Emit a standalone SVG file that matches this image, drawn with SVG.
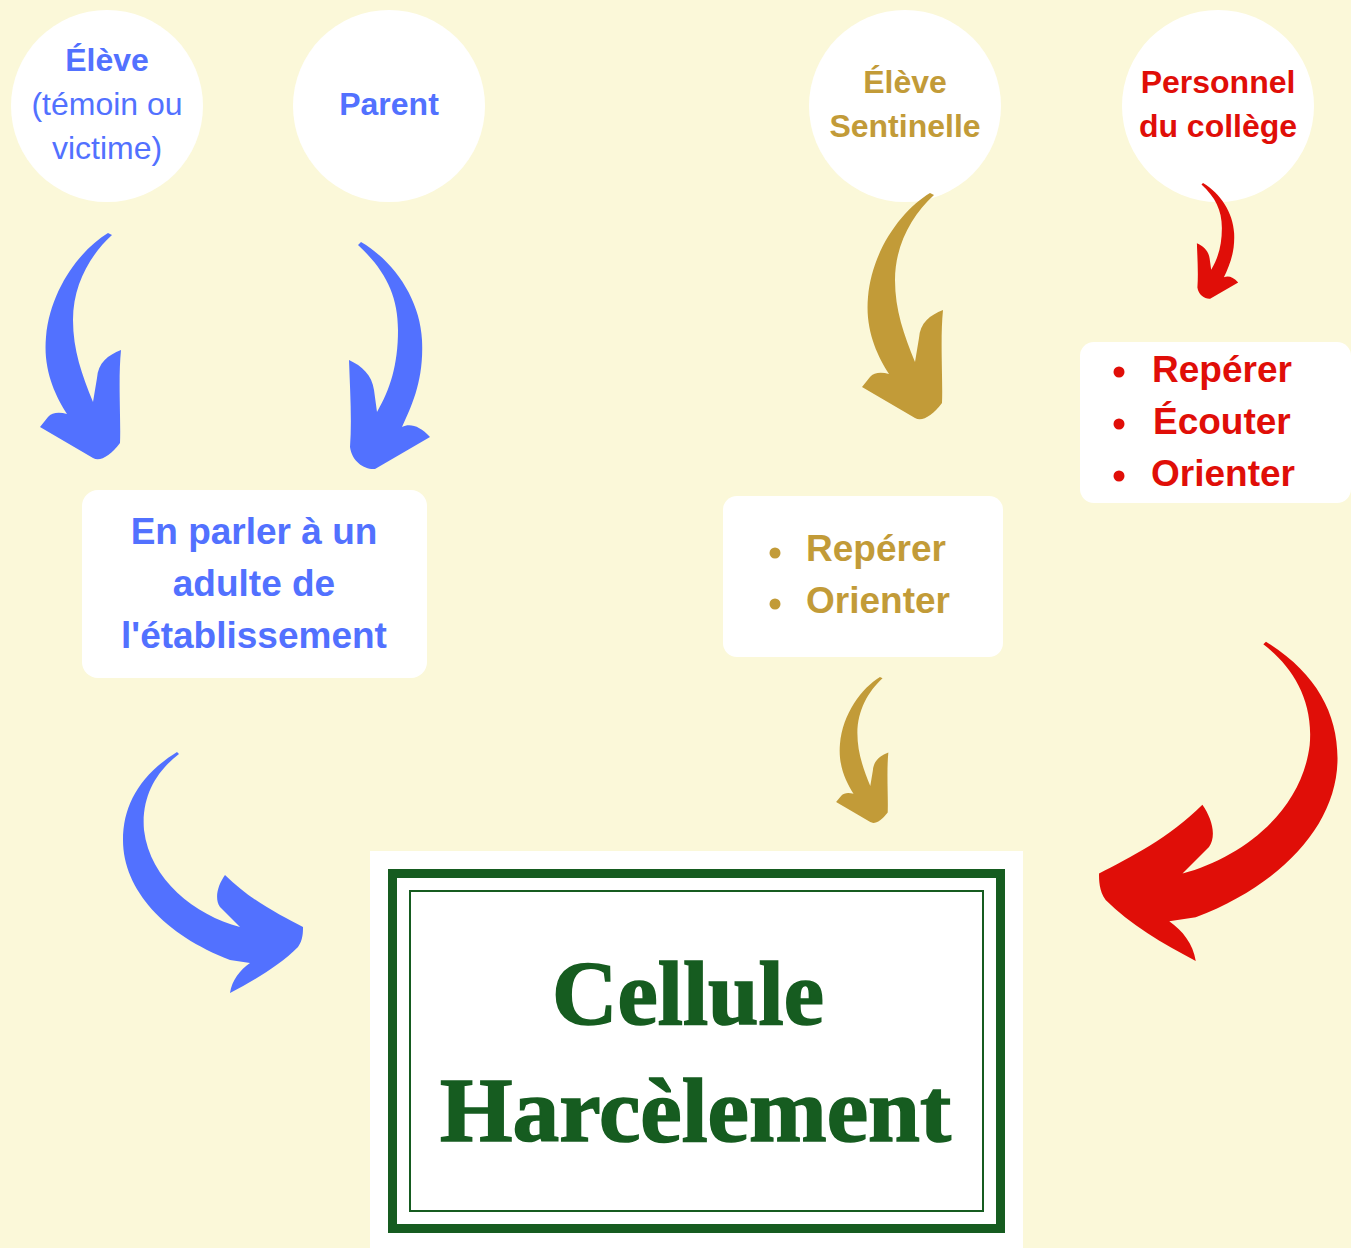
<svg xmlns="http://www.w3.org/2000/svg" xmlns:xlink="http://www.w3.org/1999/xlink" width="1351" height="1248" viewBox="0 0 1351 1248">
<style>
.sans{font-family:"Liberation Sans",Arial,sans-serif}
.b{font-weight:700}
.blue{fill:#5271FF}
.gold{fill:#C29B38}
.red{fill:#E00E08}
.c31{font-size:32px}
.c36{font-size:37px}
.card{fill:#FFFFFF}
.title{font-family:"Liberation Serif","Times New Roman",serif;font-weight:700;font-size:92px;fill:#165C20;stroke:#165C20;stroke-width:1.6px}
</style>
<defs>
<path id="arrowR" d="M108,233 C80,250 50,290 46,337 C43,370 55,395 67,414 C60,412 52,412 48,417 L40,427 L93,458 C100,462 110,456 120,443 C121,420 118,380 121,350 C108,355 98,363 97,378 L93,402 C82,375 73,350 73,320 C73,285 90,255 112,235 Z"/>
<path id="arrowL" d="M361,242 C395,262 420,300 422,340 C424,380 412,405 402,427 C410,423 420,426 430,437 L375,469 C365,470 352,462 350,447 C352,420 350,390 349,360 C362,366 372,375 374,390 L377,412 C390,390 398,365 398,330 C398,295 385,270 358,245 Z"/>
<path id="arrowSwoop" d="M177,752 C140,775 123,805 123,840 C123,890 165,935 230,960 L250,963 C240,970 232,980 230,993 C255,980 280,965 298,947 C303,940 303,932 303,927 C280,915 250,900 225,875 C218,885 214,898 220,907 L240,927 C195,915 150,880 144,830 C141,795 158,770 179,754 Z"/>
</defs>
<rect width="1351" height="1248" fill="#FBF8D9"/>

<g id="node-eleve">
<circle cx="107" cy="106" r="96" class="card"/>
<text class="sans blue c31" text-anchor="middle"><tspan class="b" x="107" y="71">Élève</tspan><tspan x="107" y="115">(témoin ou</tspan><tspan x="107" y="159">victime)</tspan></text>
</g>
<g id="node-parent">
<circle cx="389" cy="106" r="96" class="card"/>
<text class="sans b blue c31" text-anchor="middle" x="389" y="115">Parent</text>
</g>
<g id="node-sentinelle">
<circle cx="905" cy="106" r="96" class="card"/>
<text class="sans b gold c31" text-anchor="middle"><tspan x="905" y="93">Élève</tspan><tspan x="905" y="137">Sentinelle</tspan></text>
</g>
<g id="node-personnel">
<circle cx="1218" cy="106" r="96" class="card"/>
<text class="sans b red c31" text-anchor="middle"><tspan x="1218" y="93">Personnel</tspan><tspan x="1218" y="137">du collège</tspan></text>
</g>

<g id="node-adulte">
<rect x="82" y="490" width="345" height="188" rx="16" class="card"/>
<text class="sans b blue c36" text-anchor="middle"><tspan x="254" y="544">En parler à un</tspan><tspan x="254" y="596">adulte de</tspan><tspan x="254" y="648">l'établissement</tspan></text>
</g>

<g id="node-sentinelle-actions">
<rect x="723" y="496" width="280" height="161" rx="14" class="card"/>
<circle cx="775" cy="553" r="5.5" class="gold"/>
<circle cx="775" cy="604" r="5.5" class="gold"/>
<text class="sans b gold c36"><tspan x="806" y="561">Repérer</tspan><tspan x="806" y="613">Orienter</tspan></text>
</g>

<g id="node-personnel-actions">
<rect x="1080" y="342" width="271" height="161" rx="14" class="card"/>
<circle cx="1119" cy="372" r="5.5" class="red"/>
<circle cx="1119" cy="424" r="5.5" class="red"/>
<circle cx="1119" cy="476" r="5.5" class="red"/>
<text class="sans b red c36"><tspan x="1152" y="382">Repérer</tspan><tspan x="1153" y="434">Écouter</tspan><tspan x="1151" y="486">Orienter</tspan></text>
</g>

<g id="node-cellule">
<rect x="370" y="851" width="653" height="397" class="card"/>
<rect x="392.5" y="873.5" width="608" height="355" fill="none" stroke="#165C20" stroke-width="9"/>
<rect x="410" y="891" width="573" height="320" fill="none" stroke="#165C20" stroke-width="2"/>
<text class="title" x="552" y="1024" textLength="272" lengthAdjust="spacingAndGlyphs">Cellule</text>
<text class="title" x="440" y="1141" textLength="511" lengthAdjust="spacingAndGlyphs">Harcèlement</text>
</g>

<g id="connectors">
<use xlink:href="#arrowR" fill="#5271FF"/>
<use xlink:href="#arrowL" fill="#5271FF"/>
<use xlink:href="#arrowSwoop" fill="#5271FF"/>
<use xlink:href="#arrowR" fill="#C29B38" transform="translate(822,-40)"/>
<use xlink:href="#arrowR" fill="#C29B38" transform="translate(810.3,526.7) scale(0.645)"/>
<use xlink:href="#arrowL" fill="#E00E08" transform="translate(1018.9,59.6) scale(0.51)"/>
<use xlink:href="#arrowSwoop" fill="#E00E08" transform="translate(1500.5,-354.7) scale(-1.325,1.325)"/>
</g>
</svg>
